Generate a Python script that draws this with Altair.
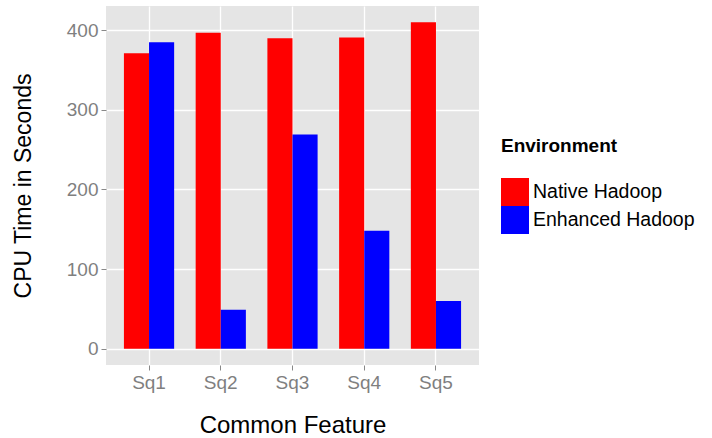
import altair as alt
import pandas as pd

categories = ["Sq1", "Sq2", "Sq3", "Sq4", "Sq5"]
series = ["Native Hadoop", "Enhanced Hadoop"]
native = [371, 397, 390, 391, 410]
enhanced = [385, 49, 269, 148, 60]
y_ticks = [0, 100, 200, 300, 400]
colors = ["#ff0000", "#0000ff"]

rows = []
for c, n, e in zip(categories, native, enhanced):
    rows.append({"feature": c, "env": series[0], "time": n})
    rows.append({"feature": c, "env": series[1], "time": e})
df = pd.DataFrame(rows)

FONT = "Liberation Sans"

chart = alt.Chart(df).mark_bar().encode(
    x=alt.X(
        "feature:N",
        sort=categories,
        scale=alt.Scale(paddingInner=0.3, paddingOuter=0.25),
        axis=alt.Axis(
            title="Common Feature",
            labelAngle=0,
            grid=True,
            bandPosition=0.5,
            titleFontSize=24,
            titlePadding=21,
            labelPadding=3,
        ),
    ),
    xOffset=alt.XOffset("env:N", sort=series, scale=alt.Scale(paddingInner=0, paddingOuter=0)),
    y=alt.Y(
        "time:Q",
        scale=alt.Scale(domain=[-20.5, 430.5], zero=False, nice=False),
        axis=alt.Axis(
            title="CPU Time in Seconds",
            values=y_ticks,
            titleFontSize=23,
            titlePadding=31,
            labelPadding=3,
        ),
    ),
    color=alt.Color(
        "env:N",
        sort=series,
        scale=alt.Scale(domain=series, range=colors),
        legend=alt.Legend(
            title="Environment",
            orient="none",
            legendX=395,
            legendY=131,
            titleFontSize=19,
            titleFontWeight="bold",
            titleColor="#000000",
            titleFont=FONT,
            titlePadding=22,
            labelFontSize=19.5,
            labelFont=FONT,
            labelColor="#000000",
            labelOffset=4,
            labelLimit=0,
            symbolType="square",
            symbolSize=784,
            symbolStrokeWidth=0,
            symbolOpacity=1,
            rowPadding=0,
        ),
    ),
).properties(
    width=373,
    height=359,
    background="#ffffff",
    padding={"left": 106, "top": 6, "right": 233, "bottom": 73},
    autosize=alt.AutoSizeParams(type="none"),
).configure_view(
    fill="#e5e5e5", stroke=None
).configure_axis(
    domain=False,
    gridColor="#ffffff",
    gridWidth=1.3,
    tickColor="#888888",
    tickSize=5,
    labelColor="#7f7f7f",
    labelFontSize=19,
    labelFont=FONT,
    titleFont=FONT,
    titleFontWeight="normal",
    titleColor="#000000",
)

chart.save("out.html", embed_options={"renderer": "svg", "actions": False})
